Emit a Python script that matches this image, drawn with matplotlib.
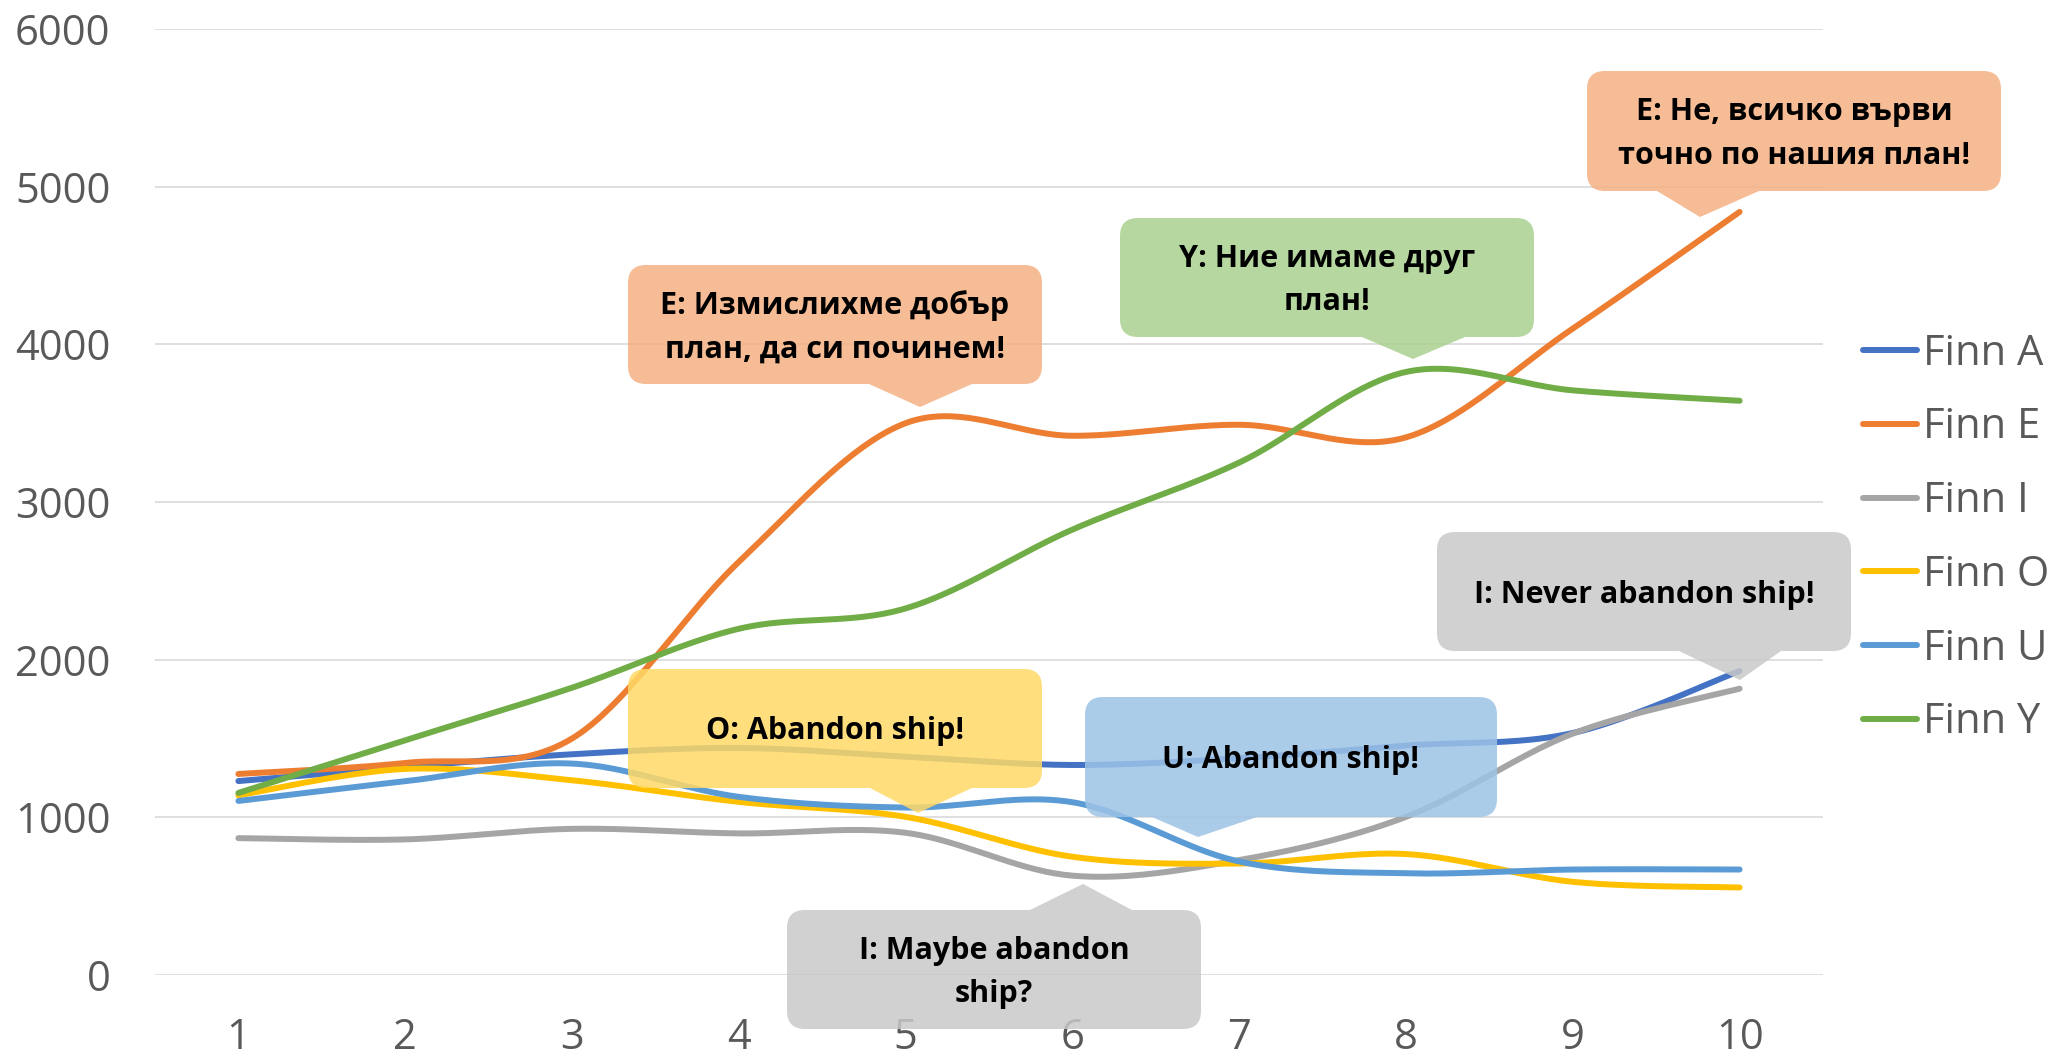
import numpy as np
import matplotlib
matplotlib.use("Agg")
import matplotlib.pyplot as plt
from matplotlib.path import Path
from matplotlib.patches import PathPatch

# data
periods = list(range(1, 11))
finn_a = [1230, 1320, 1400, 1440, 1385, 1332, 1375, 1455, 1535, 1928]
finn_e = [1275, 1345, 1500, 2620, 3500, 3420, 3490, 3410, 4100, 4840]
finn_i = [868, 860, 927, 898, 902, 630, 729, 1003, 1531, 1816]
finn_o = [1140, 1307, 1235, 1098, 1003, 750, 707, 767, 591, 555]
finn_u = [1104, 1229, 1341, 1130, 1062, 1096, 720, 645, 669, 669]
finn_y = [1155, 1489, 1822, 2196, 2325, 2825, 3250, 3825, 3708, 3642]

series_names = ["Finn A", "Finn E", "Finn I", "Finn O", "Finn U", "Finn Y"]
series_values = [finn_a, finn_e, finn_i, finn_o, finn_u, finn_y]
series_colors = ["#4472C4", "#ED7D31", "#A5A5A5", "#FFC000", "#5B9BD5", "#70AD47"]

# callouts: text, colour, box (px, top-down), pointer base x's, tip, pointer on top?
callouts = [
    ("E: Измислихме добър\nплан, да си починем!", "#F4B183", (628, 265, 1042, 384), (869, 972), (920, 407), False),
    ("Y: Ние имаме друг\nплан!", "#A9D18E", (1120, 218, 1534, 337), (1362, 1465), (1413, 359), False),
    ("E: Не, всичко върви\nточно по нашия план!", "#F4B183", (1587, 71, 2001, 191), (1657, 1759), (1700, 217), False),
    ("I: Never abandon ship!", "#C9C9C9", (1437, 532, 1851, 651), (1679, 1781), (1740, 680), False),
    ("O: Abandon ship!", "#FFD966", (628, 669, 1042, 788), (870, 972), (918, 813), False),
    ("U: Abandon ship!", "#9DC3E6", (1085, 697, 1497, 817), (1152, 1257), (1198, 837), False),
    ("I: Maybe abandon\nship?", "#C9C9C9", (787, 910, 1201, 1029), (1030, 1132), (1083, 884), True),
]

W, H = 2061, 1058
TICK_FONT = ["Open Sans", "DejaVu Sans"]
NOTE_FONT = ["Open Sans", "DejaVu Sans"]


def smooth(xs, ys, n=40):
    # bezier smoothing like the office "smoothed line" option
    pts = np.column_stack([xs, ys]).astype(float)
    p = np.vstack([pts[0], pts, pts[-1]])
    t = np.linspace(0, 1, n)[:, None]
    out = []
    for i in range(1, len(p) - 2):
        p0, p1, p2, p3 = p[i - 1], p[i], p[i + 1], p[i + 2]
        c1 = p1 + (p2 - p0) / 6
        c2 = p2 - (p3 - p1) / 6
        seg = (1 - t) ** 3 * p1 + 3 * (1 - t) ** 2 * t * c1 + 3 * (1 - t) * t ** 2 * c2 + t ** 3 * p2
        out.append(seg if i == 1 else seg[1:])
    out = np.vstack(out)
    return out[:, 0], out[:, 1]


def add_callout(fig, text, color, box, base, tip, top, r=18):
    x0, y0, x1, y1 = box
    verts, codes = [], []

    def ln(x, y, code=Path.LINETO):
        verts.append((x, y))
        codes.append(code)

    def cv(cx, cy, x, y):
        verts.extend([(cx, cy), (x, y)])
        codes.extend([Path.CURVE3, Path.CURVE3])

    ln(x0 + r, y0, Path.MOVETO)
    if top:
        ln(base[0], y0)
        ln(*tip)
        ln(base[1], y0)
    ln(x1 - r, y0)
    cv(x1, y0, x1, y0 + r)
    ln(x1, y1 - r)
    cv(x1, y1, x1 - r, y1)
    if not top:
        ln(base[1], y1)
        ln(*tip)
        ln(base[0], y1)
    ln(x0 + r, y1)
    cv(x0, y1, x0, y1 - r)
    ln(x0, y0 + r)
    cv(x0, y0, x0 + r, y0)
    ln(x0 + r, y0, Path.CLOSEPOLY)
    v = [(x / W, 1 - y / H) for x, y in verts]
    patch = PathPatch(Path(v, codes), transform=fig.transFigure, facecolor=color,
                      edgecolor="none", alpha=0.85, zorder=5)
    fig.add_artist(patch)
    cx = (x0 + x1) / 2
    cy = (y0 + y1) / 2 + 3
    fig.text(cx / W, 1 - cy / H, text, ha="center", va="center", fontsize=22,
             fontweight="bold", family=NOTE_FONT, linespacing=1.6, color="black", zorder=6)


fig = plt.figure(figsize=(W / 100, H / 100), dpi=100)
ax = fig.add_axes([155 / W, 83 / H, (1823 - 155) / W, (1029 - 83) / H])

for name, vals, col in zip(series_names, series_values, series_colors):
    sx, sy = smooth(periods, vals)
    ax.plot(sx, sy, color=col, lw=4.3, label=name, solid_capstyle="round")

ax.set_xlim(0.5, 10.5)
ax.set_ylim(0, 6000)
ax.set_xticks(periods)
ax.set_yticks(range(0, 6001, 1000))
ax.grid(axis="y", color="#D9D9D9", lw=1.2)
ax.set_axisbelow(True)
for s in ax.spines.values():
    s.set_visible(False)
ax.tick_params(length=0, labelsize=30, labelcolor="#595959")
ax.tick_params(axis="x", pad=30)
ax.tick_params(axis="y", pad=32)
for lab in ax.get_xticklabels() + ax.get_yticklabels():
    lab.set_family(TICK_FONT)

ax.legend(loc="center left", bbox_to_anchor=(1863 / W, 1 - 538 / H), bbox_transform=fig.transFigure,
          frameon=False, prop={"family": TICK_FONT, "size": 30}, labelcolor="#595959",
          handlelength=1.3, handletextpad=0.15, labelspacing=0.76, borderpad=0, borderaxespad=0)

for c in callouts:
    add_callout(fig, *c)

fig.savefig("out.png", dpi=100)
